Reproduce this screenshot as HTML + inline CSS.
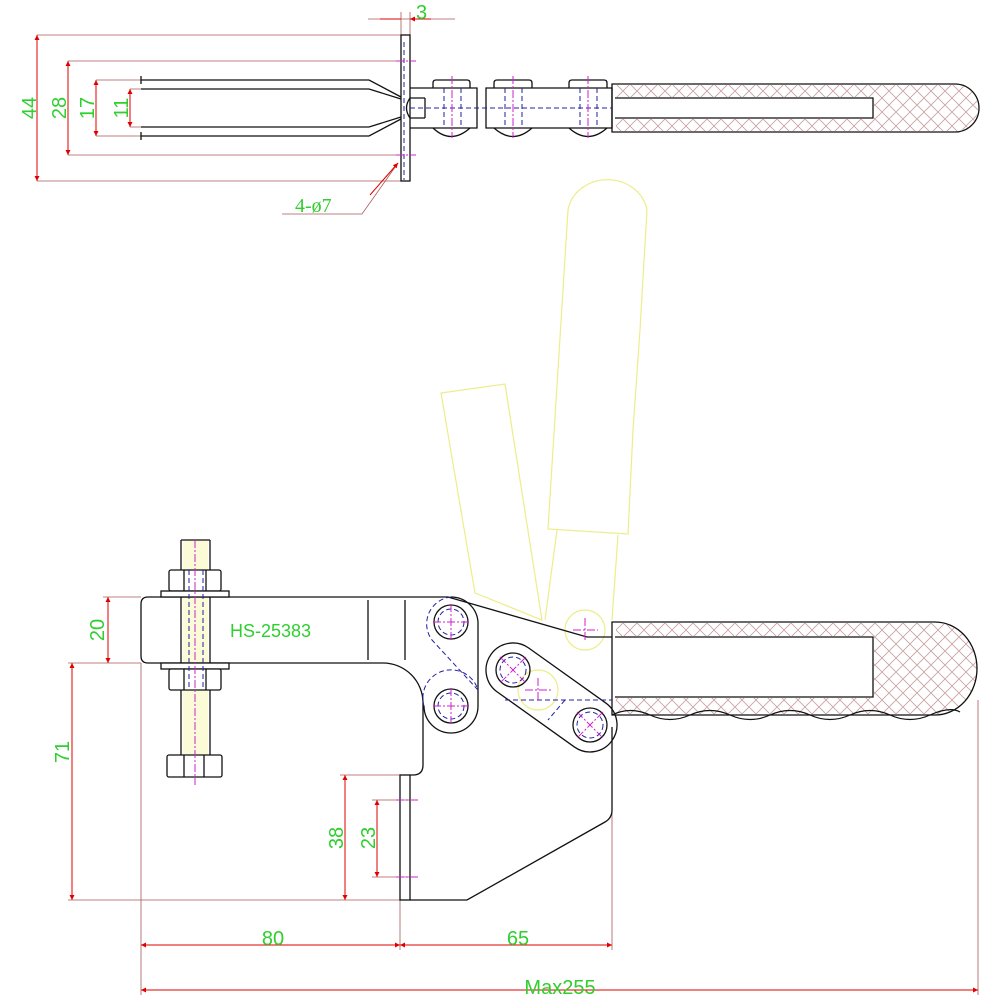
<!DOCTYPE html>
<html><head><meta charset="utf-8"><style>html,body{margin:0;padding:0;background:#fff}svg{display:block}</style></head>
<body>
<svg width="1000" height="1000" viewBox="0 0 1000 1000" xmlns="http://www.w3.org/2000/svg">
<defs>
<pattern id="h" width="14" height="14" patternUnits="userSpaceOnUse">
<path d="M0 0L14 14M14 0L0 14" stroke="#c8a0a0" stroke-width="0.8"/>
</pattern>
<marker id="a" viewBox="0 0 10 10" refX="10" refY="5" markerWidth="12" markerHeight="5" orient="auto-start-reverse" markerUnits="userSpaceOnUse"><path d="M0 0L10 5L0 10z" fill="#e00000"/></marker>
</defs>
<g fill="none" stroke="#eded8a" stroke-width="1.2">
<path d="M568 210 A40 36 0 0 1 647 210 L640 330 L633 430 L628 534 L548 529 Z"/>
<path d="M557 530 L545 620 M618 535 L612 620"/>
<path d="M441 393 L505 384 L542 620 L475 593 Z"/>
<circle cx="585" cy="630" r="20"/><circle cx="538" cy="690" r="20"/>
</g>
<path d="M183 540H208V755H183Z" fill="#fbfbd8" stroke="none"/>
<path d="M616 85H955A23 23 0 0 1 955 131H616ZM874 97V119H616V97Z" fill="url(#h)" fill-rule="evenodd" stroke="none"/>
<path d="M616 623H935A42 45.5 0 0 1 935 714H616ZM874 636V698H616V636Z" fill="url(#h)" fill-rule="evenodd" stroke="none"/>
<g stroke="#a85a5a" stroke-width="0.8" fill="none">
<path d="M37 35H401M37 181H401M68 61H401M68 155H401M96 80H141M96 136H141M130 89H141M130 127H141"/>
<path d="M401 12V35M410 12V35M368 19H455"/>
<path d="M103 597H141M68 663H141M68 900H400M340 775H400M372 800H415M372 877H415"/>
<path d="M141 663V995M400 900V950M612 730V950M978 700V995"/>
<path d="M282 214H362L398 163"/>
</g>
<g stroke="#e00000" stroke-width="1" fill="none" marker-start="url(#a)" marker-end="url(#a)">
<path d="M37 35V181"/><path d="M68 61V155"/><path d="M96 80V136"/><path d="M130 89V127"/>
<path d="M108 597V663"/><path d="M72 663V900"/><path d="M345 775V900"/><path d="M377 800V877"/>
<path d="M141 945H400"/><path d="M400 945H612"/><path d="M141 990H978"/>
</g>
<path d="M380 19H401M431 19H410" stroke="#e00000" marker-end="url(#a)"/>
<path d="M370 195L398 163" stroke="#e00000" marker-end="url(#a)"/>
<g fill="#2fcf2f" font-family="Liberation Sans, sans-serif" font-size="20">
<text x="416" y="19">3</text>
<text transform="translate(36,108) rotate(-90)" text-anchor="middle">44</text>
<text transform="translate(66,108) rotate(-90)" text-anchor="middle">28</text>
<text transform="translate(94,108) rotate(-90)" text-anchor="middle">17</text>
<text transform="translate(128,108) rotate(-90)" text-anchor="middle">11</text>
<text x="295" y="212" font-family="Liberation Serif, serif">4-ø7</text>
<text transform="translate(104,630) rotate(-90)" text-anchor="middle">20</text>
<text transform="translate(69,752) rotate(-90)" text-anchor="middle">71</text>
<text transform="translate(343,838) rotate(-90)" text-anchor="middle">38</text>
<text transform="translate(375,838) rotate(-90)" text-anchor="middle">23</text>
<text x="273" y="945" text-anchor="middle">80</text>
<text x="518" y="945" text-anchor="middle">65</text>
<text x="560" y="994" text-anchor="middle">Max255</text>
<text x="230" y="637" font-size="18">HS-25383</text>
</g>
<g fill="none" stroke="#111" stroke-width="1.3">
<!-- top view -->
<rect x="401" y="35" width="9" height="146"/>
<path d="M141 76V84M141 132V140"/>
<path d="M141 80H369L401 97M141 89H369L401 99M141 136H369L401 119M141 127H369L401 117"/>
<path d="M410 98Q403 108 410 118"/>
<path d="M410 88H477V128H410M425 98V118M410 98H425M410 118H425M486 88H612V128H486Z"/>
<path d="M433 88V83Q433 80 436 80H467Q470 80 470 83V88M494 88V83Q494 80 497 80H529Q532 80 532 83V88M569 88V83Q569 80 572 80H604Q607 80 607 83V88"/>
<path d="M433 128Q451 145 470 128M494 128Q513 145 532 128M569 128Q588 145 607 128"/>
<path d="M612 84H955A24 24 0 0 1 955 132H612ZM615 98H873V118H615"/>
<!-- main body -->
<path d="M148 597H448L587 637H612M148 597Q141 597 141 604V656Q141 663 148 663H383A40 40 0 0 1 423 703V765Q423 775 413 775H410"/>
<rect x="400" y="775" width="10" height="125"/>
<path d="M410 900H467L605 822Q612 818 612 810V727"/>
<path d="M368 600V660M405 600V660"/>
<path d="M451 597A27 27 0 0 1 478 622V706A27 27 0 0 1 424 706"/>
<path d="M612 622H935A42 46.5 0 0 1 935 715H612ZM615 637H873V697H615"/>
<g transform="translate(513,670) rotate(35.5)"><rect x="-27" y="-27" width="148.6" height="54" rx="27"/></g>
<circle cx="451" cy="622" r="17"/><circle cx="451" cy="706" r="17"/>
<circle cx="513" cy="670" r="17"/><circle cx="590" cy="725" r="17"/>
<!-- bolt -->
<path d="M181 540V755M210 540V755M181 540H210"/>
<rect x="169" y="570" width="52" height="21" rx="2" fill="#fff"/><rect x="161" y="591" width="68" height="6" fill="#fff"/>
<rect x="161" y="663" width="68" height="6" fill="#fff"/><rect x="169" y="669" width="52" height="21" rx="2" fill="#fff"/>
<path d="M184 570V591M206 570V591M184 669V690M206 669V690"/>
<rect x="167" y="755" width="55" height="22" rx="2"/><path d="M184 755V777M204 755V777"/>
</g>
<path d="M612 715Q630 706 650 715T690 715T730 715T770 715T810 715T850 715T890 715T930 715T960 712" stroke="#111" fill="none" stroke-width="1.2"/>
<g fill="none" stroke="#2020a0" stroke-width="1" stroke-dasharray="5,3">
<path d="M189 570V690M203 570V690"/>
<path d="M404 42V180M410 108H612M444 88V128M461 88V128M505 88V128M522 88V128M580 88V128M597 88V128"/>
<circle cx="451" cy="622" r="13"/><circle cx="451" cy="706" r="13"/>
<circle cx="513" cy="670" r="13"/><circle cx="590" cy="725" r="13"/>
<path d="M451 597A27 27 0 0 0 432 640L478 690M424 706A27 27 0 0 1 478 690M505 700H612M565 700L548 720"/>
</g>
<g stroke="#d020d0" stroke-width="1" stroke-dasharray="8,2,2,2">
<path d="M396 61H416M396 155H416M452 76V138M513 76V138M588 76V138M195 540V785"/>
<path d="M433 622H470M451 604V640M433 706H470M451 688V724M500 657L526 683M526 657L500 683M577 712L603 738M603 712L577 738M573 630H598M585 618V642M525 690H551M538 678V702M396 800H418M396 877H418"/>
</g>
</svg>
</body></html>
